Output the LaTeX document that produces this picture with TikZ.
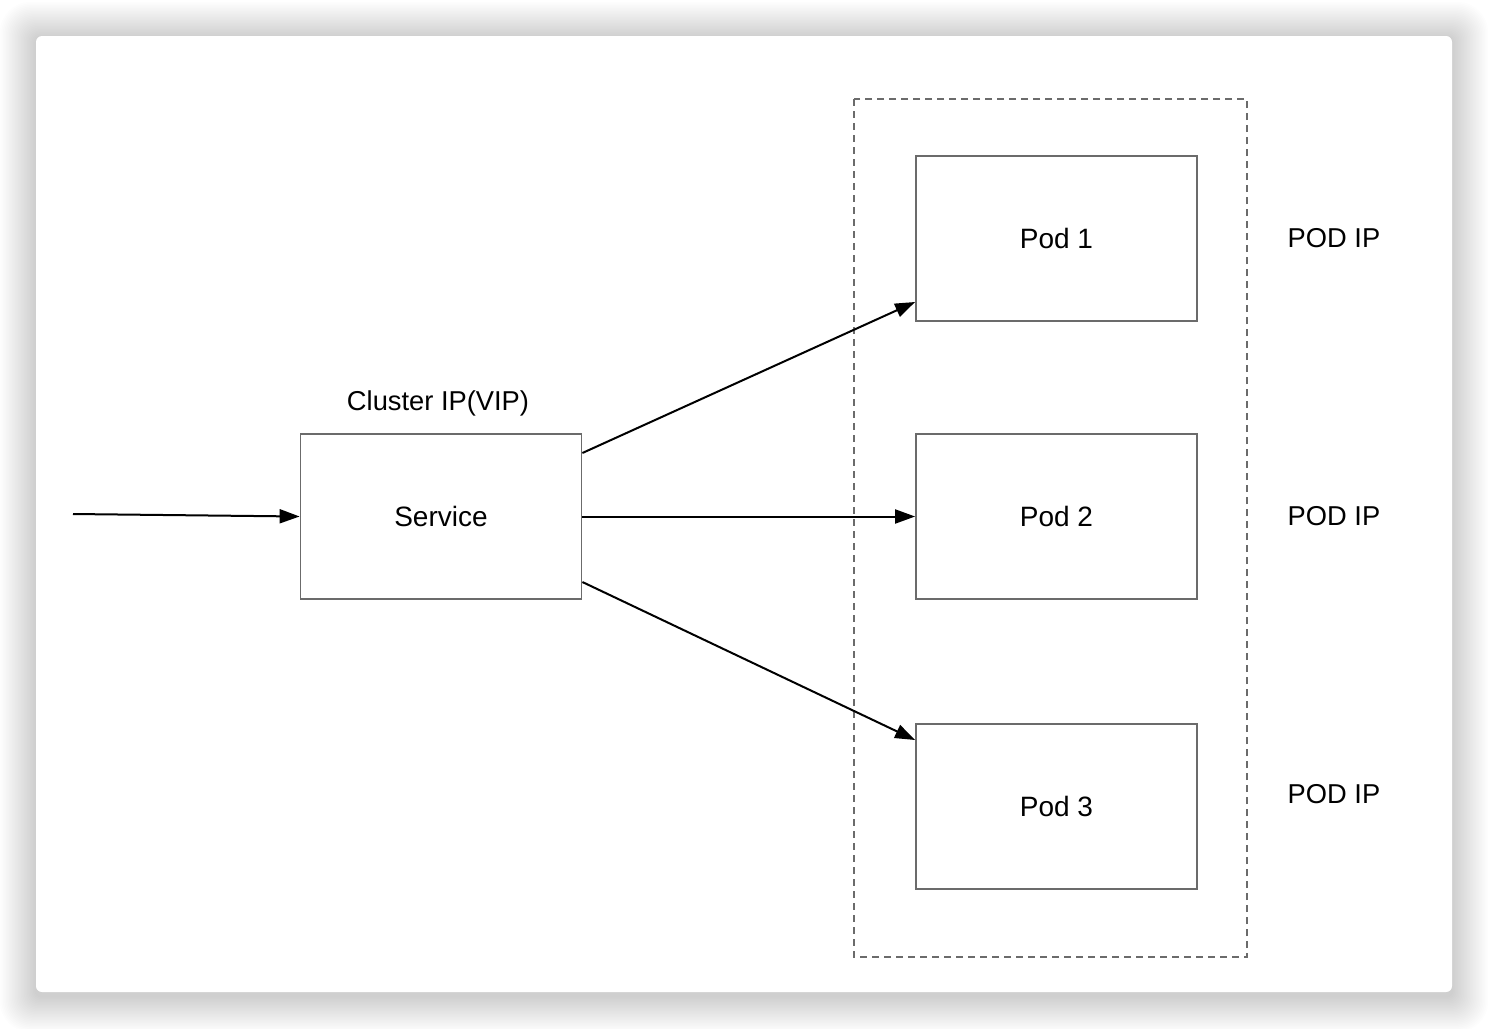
\documentclass[tikz,border=0pt]{standalone}
\usepackage{fontspec}
\setmainfont{Liberation Sans}
\usetikzlibrary{arrows.meta}
\begin{document}
\begin{tikzpicture}[x=1pt,y=-1pt,
  box/.style={draw=black!58,line width=1.8pt,fill=white,minimum width=281pt,minimum height=165pt,inner sep=0pt,font=\fontsize{28}{32}\selectfont},
  lbl/.style={font=\fontsize{27.3}{32}\selectfont,inner sep=0pt},
  conn/.style={line width=2pt,-{Triangle[length=20pt,width=14pt]}}]
\useasboundingbox (0,0) rectangle (1488,1028);
\fill[white] (0,0) rectangle (1488,1028);
% shadow
\foreach \i in {1,...,24}{
  \fill[black,opacity=0.009,rounded corners={6+\i}] (36-1.5*\i,38-1.5*\i) rectangle (1452+1.5*\i,996+1.5*\i);
}
\fill[white,rounded corners=6] (36,36) rectangle (1452,992);
% container
\draw[black!58,line width=1.5pt,dash pattern=on 7pt off 5pt] (854,99) rectangle (1247,957);
% nodes
\node[box] (svc) at (441,516.5) {Service};
\node[box] (p1) at (1056.5,238.5) {Pod 1};
\node[box] (p2) at (1056.5,516.5) {Pod 2};
\node[box] (p3) at (1056.5,806.5) {Pod 3};
\node[lbl] (cip) at (438,403) {Cluster IP(VIP)};
\node[lbl] (ip1) at (1334,238) {POD IP};
\node[lbl] (ip2) at (1334,516) {POD IP};
\node[lbl] (ip3) at (1334,794) {POD IP};
\coordinate (in) at (73,514);
% connectors
\draw[conn] (in) -- (svc.west);
\draw[conn] (svc.east |- 0,453) -- (p1.west |- 0,302);
\draw[conn] (svc.east) -- (p2.west);
\draw[conn] (svc.east |- 0,582) -- (p3.west |- 0,740);
\end{tikzpicture}
\end{document}
